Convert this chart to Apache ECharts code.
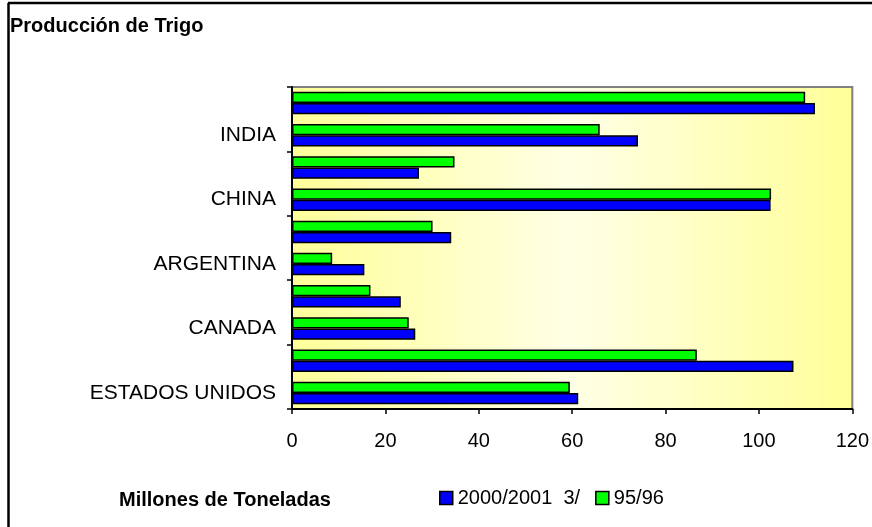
<!DOCTYPE html>
<html>
<head>
<meta charset="utf-8">
<script src="https://cdn.jsdelivr.net/npm/echarts@6/dist/echarts.min.js"></script>
<style>
html,body{margin:0;padding:0;background:#fff;}
#main{width:872px;height:527px;}
</style>
</head>
<body>
<div id="main"></div>
<script>
const categorias = ['ESTADOS UNIDOS', 'UNIÓN EUROPEA', 'CANADA', 'AUSTRALIA', 'ARGENTINA', 'RUSIA', 'CHINA', 'EUROPA ORIENTAL', 'INDIA', 'OTROS'];
const serie2000 = [61.3, 107.4, 26.4, 23.3, 15.5, 34.1, 102.5, 27.2, 74.1, 112.0];
const serie9596 = [59.5, 86.7, 25.0, 16.8, 8.6, 30.1, 102.6, 34.8, 65.9, 109.9];
const nombres = ['2000/2001  3/', '95/96'];
const ejeX = { min: 0, max: 120, interval: 20 };
const titulo = 'Producción de Trigo';
const unidades = 'Millones de Toneladas';

const FONT = '"Liberation Sans", Arial, sans-serif';
const chart = echarts.init(document.getElementById('main'), null, { renderer: 'canvas' });
chart.setOption({
  backgroundColor: '#ffffff',
  animation: false,
  title: {
    text: titulo, left: 10, top: 16, padding: 0,
    textStyle: { fontFamily: FONT, fontSize: 20, fontWeight: 'bold', color: '#000' }
  },
  legend: {
    left: 439, top: 488, padding: 0,
    itemWidth: 13, itemHeight: 13, itemGap: 15,
    icon: 'rect',
    textStyle: { fontFamily: FONT, fontSize: 20, color: '#000' },
    itemStyle: { borderColor: '#000', borderWidth: 1.5 },
    data: nombres
  },
  graphic: [
    { type: 'line', shape: { x1: 8.5, y1: 3, x2: 8.5, y2: 527 }, style: { stroke: '#000', lineWidth: 2.5 } },
    { type: 'line', shape: { x1: 8, y1: 3, x2: 872, y2: 3 }, style: { stroke: '#000', lineWidth: 2.5 } },
    { type: 'text', left: 119, top: 490, style: { text: unidades, font: 'bold 20px ' + FONT, fill: '#000' } }
  ],
  grid: {
    left: 292, right: 19.5, top: 87, bottom: 118,
    show: true, borderColor: '#808080', borderWidth: 2,
    backgroundColor: new echarts.graphic.LinearGradient(0, 0, 1, 0, [
      { offset: 0, color: '#FFFF99' },
      { offset: 0.5, color: '#FFFFE6' },
      { offset: 1, color: '#FFFF99' }
    ])
  },
  xAxis: {
    type: 'value', min: ejeX.min, max: ejeX.max, interval: ejeX.interval,
    axisLine: { show: true, lineStyle: { color: '#000', width: 2 } },
    axisTick: { show: true, length: 5, lineStyle: { color: '#000', width: 1.5 } },
    splitLine: { show: false },
    axisLabel: { fontFamily: FONT, fontSize: 20, color: '#000', margin: 22 }
  },
  yAxis: {
    type: 'category', data: categorias,
    axisLine: { show: true, lineStyle: { color: '#000', width: 2 } },
    axisTick: { show: true, length: 5, lineStyle: { color: '#000', width: 1.5 } },
    axisLabel: { fontFamily: FONT, fontSize: 21, color: '#000', margin: 16, interval: 1 }
  },
  series: [
    {
      name: nombres[1], type: 'bar', data: serie9596,
      barGap: '0%', barCategoryGap: '30%',
      itemStyle: { color: '#00FF00', borderColor: '#000', borderWidth: 1.5 }
    },
    {
      name: nombres[0], type: 'bar', data: serie2000,
      barGap: '0%', barCategoryGap: '30%',
      itemStyle: { color: '#0000FF', borderColor: '#000', borderWidth: 1.5 }
    }
  ]
});
</script>
</body>
</html>
